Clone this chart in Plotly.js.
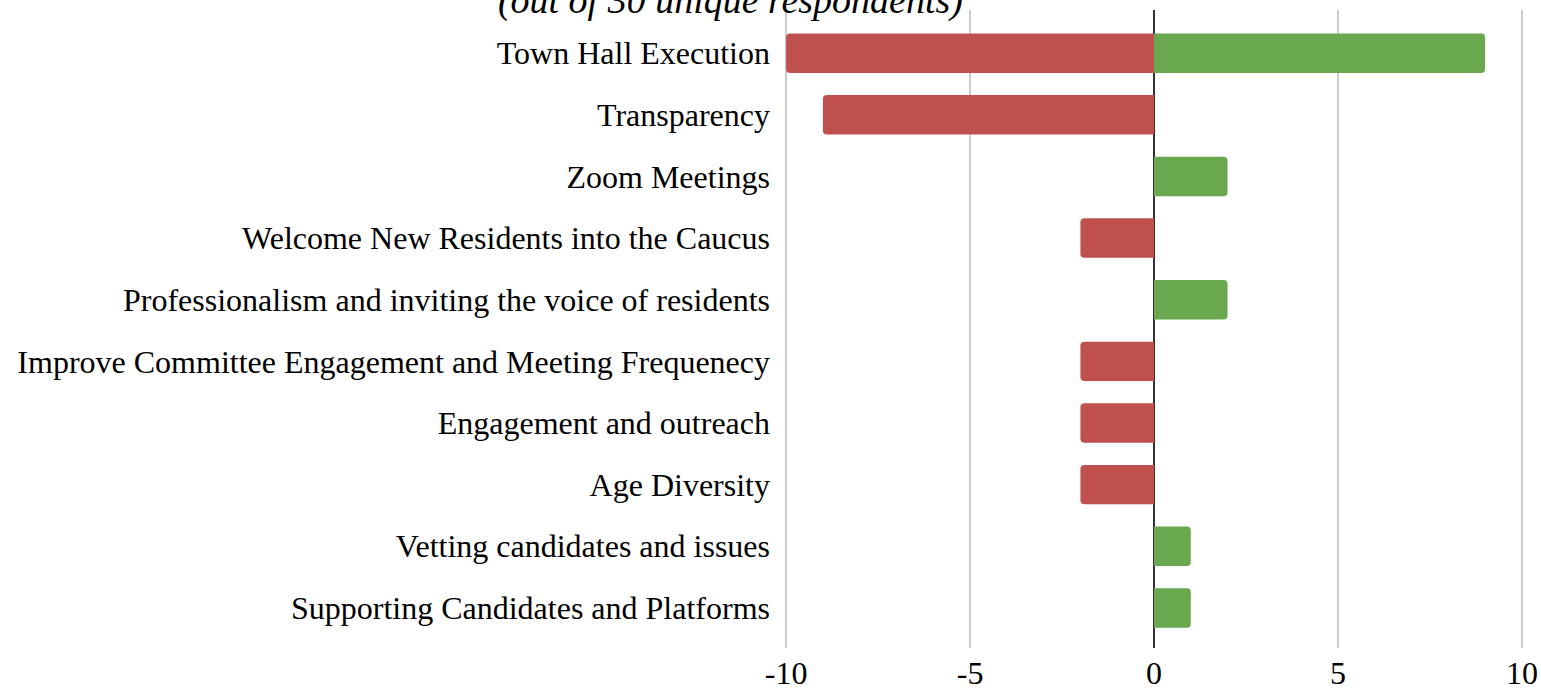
<!DOCTYPE html>
<html>
<head>
<meta charset="utf-8">
<script src="https://cdn.plot.ly/plotly-3.0.1.min.js"></script>
<style>html,body{margin:0;padding:0;background:#fff;}#chart{width:1541px;height:692px;}</style>
</head>
<body>
<div id="chart"></div>
<script>
const categories = [
  "Town Hall Execution",
  "Transparency",
  "Zoom Meetings",
  "Welcome New Residents into the Caucus",
  "Professionalism and inviting the voice of residents",
  "Improve Committee Engagement and Meeting Frequenecy",
  "Engagement and outreach",
  "Age Diversity",
  "Vetting candidates and issues",
  "Supporting Candidates and Platforms"
];
const negativeValues = [-10, -9, 0, -2, 0, -2, -2, -2, 0, 0];
const positiveValues = [9, 0, 2, 0, 2, 0, 0, 0, 1, 1];
const xTickValues = [-10, -5, 0, 5, 10];
const xTickLabels = ["-10", "-5", "0", "5", "10"];
const subtitle = "(out of 30 unique respondents)";

const font = "Liberation Serif, Times New Roman, serif";

const traces = [
  {
    type: "bar", orientation: "h", name: "Negative",
    y: categories, x: negativeValues,
    marker: {color: "#C0504D", cornerradius: 4},
    width: 0.64, hoverinfo: "x+y"
  },
  {
    type: "bar", orientation: "h", name: "Positive",
    y: categories, x: positiveValues,
    marker: {color: "#6AA84F"},
    width: 0.64, hoverinfo: "x+y"
  }
];

const layout = {
  width: 1541, height: 692,
  margin: {l: 785, r: 18, t: 10, b: 44},
  paper_bgcolor: "#ffffff", plot_bgcolor: "#ffffff",
  barmode: "relative",
  showlegend: false,
  font: {family: font, color: "#000000", size: 32},
  title: {
    text: "<i>" + subtitle + "</i>",
    font: {family: font, size: 38, color: "#000000"},
    x: 0.474, xanchor: "center", xref: "container",
    y: 1.0, yanchor: "middle", yref: "container"
  },
  xaxis: {
    range: [-10.03, 10.03],
    tickvals: xTickValues, ticktext: xTickLabels,
    showgrid: true, gridcolor: "#cccccc", gridwidth: 2,
    zeroline: true, zerolinecolor: "#333333", zerolinewidth: 2,
    showline: false, ticks: "",
    ticklabelstandoff: 3,
    tickfont: {family: font, size: 32, color: "#000000"},
    fixedrange: true
  },
  yaxis: {
    type: "category",
    categoryorder: "array", categoryarray: categories,
    range: [9.65, -0.70],
    showgrid: false, zeroline: false, showline: false, ticks: "",
    ticklabelstandoff: 14,
    tickfont: {family: font, size: 32, color: "#000000"},
    fixedrange: true
  }
};

Plotly.newPlot("chart", traces, layout, {displayModeBar: false, staticPlot: true});
</script>
</body>
</html>
